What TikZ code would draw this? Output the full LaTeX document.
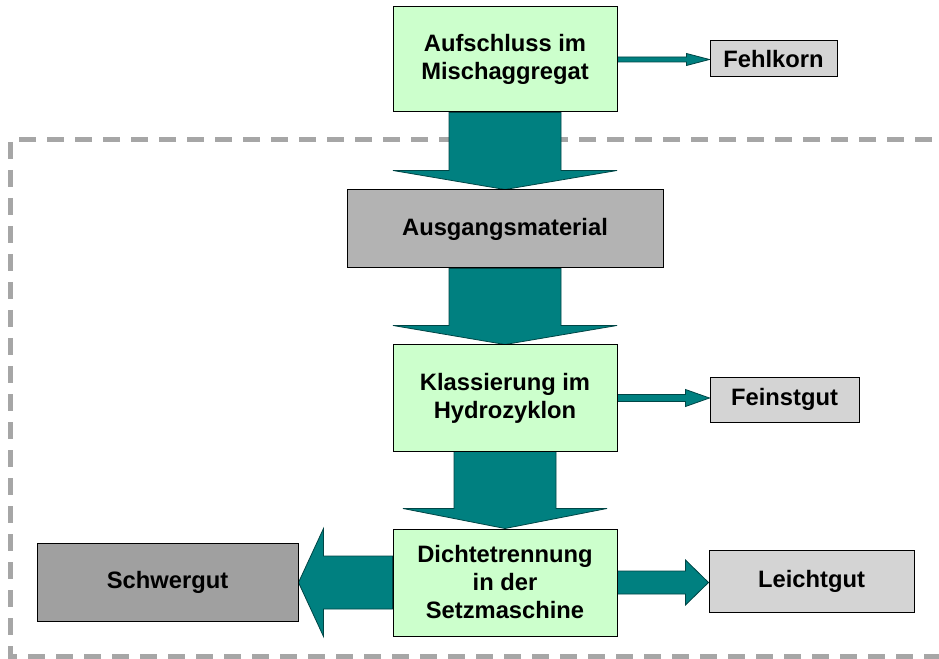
\documentclass[tikz,border=0pt]{standalone}
\usepackage{fontspec}
\setmainfont{Liberation Sans}
\usetikzlibrary{calc}
\pgfdeclarelayer{background}
\pgfsetlayers{background,main}
\definecolor{boxgreen}{HTML}{CCFFCC}
\definecolor{lightgrey}{HTML}{D4D4D4}
\definecolor{midgrey}{HTML}{B3B3B3}
\definecolor{darkgrey}{HTML}{A0A0A0}
\definecolor{dashgrey}{HTML}{A6A6A6}
\definecolor{flow}{HTML}{008080}
\definecolor{flowedge}{HTML}{004545}

\begin{document}
\begin{tikzpicture}[x=0.75pt,y=-0.75pt,line width=0.75pt,
	box/.style={draw=black, inner sep=0pt, align=center, font=\fontsize{17.8}{21}\selectfont\bfseries},
	stepbox/.style={box, fill=boxgreen, minimum width=168pt},
	flowarrow/.style={fill=flow, draw=flowedge, line width=0.6pt, line join=miter}]
\useasboundingbox (0,0) rectangle (939,659);

% Prozessschritte
\node[stepbox, minimum height=78.75pt] (auf) at (505,59.5) {Aufschluss im\\Mischaggregat};
\node[box, fill=midgrey, minimum width=237pt, minimum height=58.5pt] (aus) at (505,229) {Ausgangsmaterial};
\node[stepbox, minimum height=79.5pt] (kla) at (505,398) {Klassierung im\\Hydrozyklon};
\node[stepbox, minimum height=80.25pt] (dic) at (505,582.5) {Dichtetrennung\\in der\\Setzmaschine};

% Produkte
\node[box, fill=lightgrey, minimum width=95.25pt, minimum height=27pt] (feh) at (773.5,59) {Fehlkorn};
\node[box, fill=lightgrey, minimum width=111.75pt, minimum height=33.75pt] (fei) at (784.5,399.5) {Feinstgut};
\node[box, fill=lightgrey, minimum width=153.75pt, minimum height=46.5pt] (lei) at (811.5,581) {Leichtgut};
\node[box, fill=darkgrey, minimum width=195.75pt, minimum height=58.5pt] (sch) at (167.5,582) {Schwergut};

\begin{pgfonlayer}{background}
\draw[dashgrey, line width=3.75pt, dash pattern=on 12.75pt off 8.25pt] (960,140) -- (10,140) -- (10,656) -- (960,656);

\foreach \a/\b/\s/\w/\l in {auf/aus/56/112/19, aus/kla/56/112/19, kla/dic/51/102/20} {
	\coordinate (tip) at (\b.north);
	\draw[flowarrow] ($(\a.south)+(-\s,0)$) -- ($(tip)+(-\s,-\l)$) -- ($(tip)+(-\w,-\l)$) -- (tip)
		-- ($(tip)+(\w,-\l)$) -- ($(tip)+(\s,-\l)$) -- ($(\a.south)+(\s,0)$) -- cycle;
	}

\foreach \a/\p/\b/\q/\s/\w/\l in {auf/east/feh/west/2.5/6/23, kla/east/fei/west/3.5/8.5/24,
	dic/east/lei/west/11.5/22.5/23, dic/west/sch/east/26.5/54/-25} {
	\coordinate (tip) at (\b.\q |- \a.\p);
	\draw[flowarrow] ($(\a.\p)+(0,-\s)$) -- ($(tip)+(-\l,-\s)$) -- ($(tip)+(-\l,-\w)$) -- (tip)
		-- ($(tip)+(-\l,\w)$) -- ($(tip)+(-\l,\s)$) -- ($(\a.\p)+(0,\s)$) -- cycle;
	}
\end{pgfonlayer}

\end{tikzpicture}
\end{document}
